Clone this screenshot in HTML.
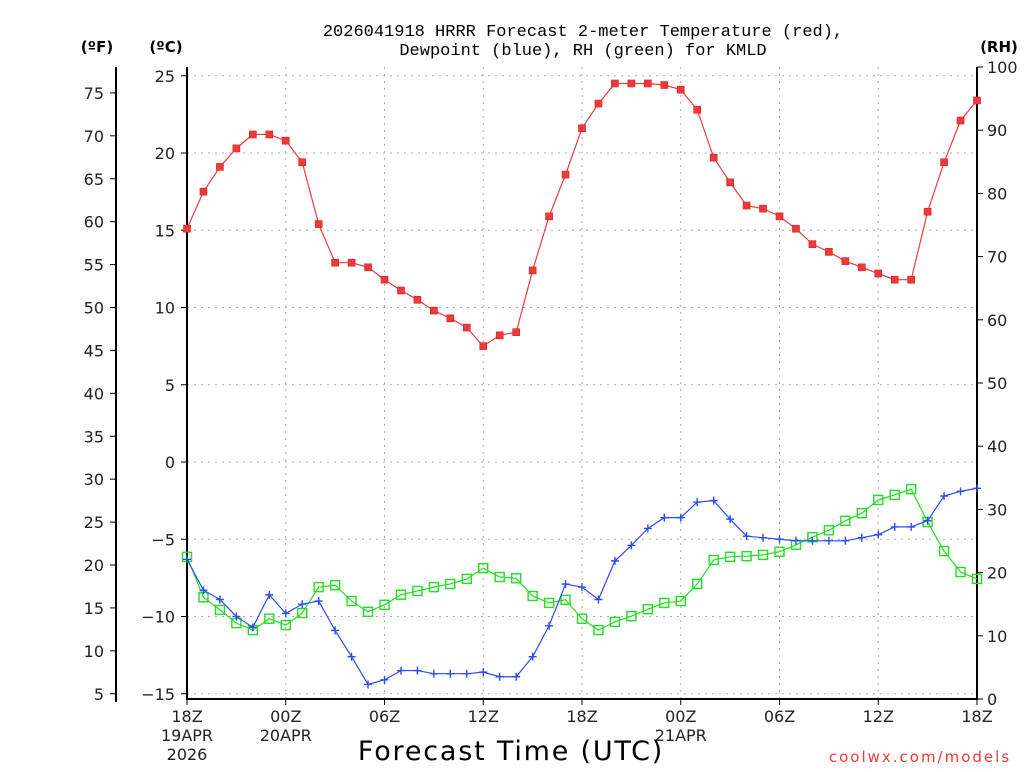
<!DOCTYPE html>
<html><head><meta charset="utf-8"><style>
body{margin:0;background:#fff;font-family:"DejaVu Sans","Liberation Sans",sans-serif}
svg text{font-family:"DejaVu Sans","Liberation Sans",sans-serif}
</style></head><body>
<svg id="c" width="1024" height="768" xmlns="http://www.w3.org/2000/svg"></svg>
<script>
const hours=[...Array(49).keys()];
const tempC=[15.1,17.5,19.1,20.3,21.2,21.2,20.8,19.4,15.4,12.9,12.9,12.6,11.8,11.1,10.5,9.8,9.3,8.7,7.5,8.2,8.4,12.4,15.9,18.6,21.6,23.2,24.5,24.5,24.5,24.4,24.1,22.8,19.7,18.1,16.6,16.4,15.9,15.1,14.1,13.6,13.0,12.6,12.2,11.8,11.8,16.2,19.4,22.1,23.4];
const dewC=[-6.3,-8.3,-8.9,-10.0,-10.7,-8.6,-9.8,-9.2,-9.0,-10.9,-12.6,-14.4,-14.1,-13.5,-13.5,-13.7,-13.7,-13.7,-13.6,-13.9,-13.9,-12.6,-10.6,-7.9,-8.1,-8.9,-6.4,-5.4,-4.3,-3.6,-3.6,-2.6,-2.5,-3.7,-4.8,-4.9,-5.0,-5.1,-5.1,-5.1,-5.1,-4.9,-4.7,-4.2,-4.2,-3.8,-2.2,-1.9,-1.7];
const rh=[22.5,16.1,14.1,12.0,10.9,12.7,11.7,13.6,17.7,18.0,15.5,13.8,14.9,16.5,17.1,17.7,18.2,19.0,20.7,19.3,19.1,16.3,15.2,15.7,12.7,10.9,12.2,13.1,14.2,15.2,15.5,18.2,22.0,22.5,22.6,22.8,23.3,24.4,25.6,26.7,28.2,29.4,31.5,32.3,33.2,28.0,23.4,20.1,19.0];
const cTicks=[25,20,15,10,5,0,-5,-10,-15];
const fTicks=[75,70,65,60,55,50,45,40,35,30,25,20,15,10,5];
const rhTicks=[0,10,20,30,40,50,60,70,80,90,100];
const xTickHours=[0,6,12,18,24,30,36,42,48];
const xTickLabels=["18Z","00Z","06Z","12Z","18Z","00Z","06Z","12Z","18Z"];
const xSub={0:["19APR","2026"],6:["20APR"],30:["21APR"]};

const L=187,R=977,T=67,B=699;
const X=h=>L+(R-L)*h/48;
const YC=c=>462-c*15.45;
const YR=r=>B-(B-T)*r/100;
const svg=document.getElementById('c');
const NS='http://www.w3.org/2000/svg';
function el(tag,attrs,parent){const e=document.createElementNS(NS,tag);for(const k in attrs)e.setAttribute(k,attrs[k]);(parent||svg).appendChild(e);return e;}
function txt(s,x,y,a,size,fill,anchor){const t=el('text',Object.assign({x:x,y:y,'font-size':size||16,fill:fill||'#000','text-anchor':anchor||'middle'},a||{}));t.textContent=s;return t;}

cTicks.forEach(c=>{const g=el('line',{x1:L,x2:R,y1:YC(c),y2:YC(c),stroke:'#aaa','stroke-dasharray':'2,5'});

});
xTickHours.forEach(h=>{if(h>0&&h<48){const g=el('line',{x1:X(h),x2:X(h),y1:T,y2:B,stroke:'#aaa','stroke-dasharray':'2,5'});

}});

el('line',{x1:L,x2:L,y1:T,y2:B+1,stroke:'#000','stroke-width':2});
el('line',{x1:L-1,x2:R+1,y1:B,y2:B,stroke:'#000','stroke-width':2});
el('line',{x1:R,x2:R,y1:T,y2:B+1,stroke:'#000','stroke-width':2});
el('line',{x1:116,x2:116,y1:T,y2:B+3,stroke:'#000','stroke-width':2});

cTicks.forEach(c=>{el('line',{x1:L-6,x2:L,y1:YC(c),y2:YC(c),stroke:'#000'});
const t=txt((c<0?'\u2212':'')+Math.abs(c),L-12,YC(c)+6,{},16,'#222','end');

});
fTicks.forEach(f=>{const y=YC((f-32)*5/9);el('line',{x1:110,x2:116,y1:y,y2:y,stroke:'#000'});
const t=txt(String(f),104,y+6,{},16,'#222','end');

});
rhTicks.forEach(r=>{el('line',{x1:R,x2:R+6,y1:YR(r),y2:YR(r),stroke:'#000'});
const t=txt(String(r),987,YR(r)+6,{},16,'#222','start');

});
xTickHours.forEach((h,i)=>{el('line',{x1:X(h),x2:X(h),y1:B,y2:B+6,stroke:'#000'});
const t=txt(xTickLabels[i],X(h),722,{},16,'#222');


(xSub[h]||[]).forEach((s,j)=>{const u=txt(s,X(h),741+j*19,{},16,'#222');

});});

function series(vals,yf,color,name,marker){
  const p=el('polyline',{points:vals.map((v,i)=>X(hours[i])+','+yf(v)).join(' '),fill:'none',stroke:color,'stroke-width':1.2});
  
  
  vals.forEach((v,i)=>{const x=X(hours[i]),y=yf(v);let m;
    if(marker==='fill'){m=el('rect',{x:x-3.5,y:y-3.5,width:7,height:7,fill:'#f03a3a',stroke:'#c22','stroke-width':0.6});}
    else if(marker==='open'){m=el('rect',{x:x-4.5,y:y-4.5,width:9,height:9,fill:'none',stroke:color,'stroke-width':1.4});}
    else{m=el('path',{d:`M${x-4},${y}H${x+4}M${x},${y-4}V${y+4}`,stroke:color,'stroke-width':1.4});}
    
    });
}
series(rh,YR,'#22dd22','rh','open');
series(dewC,YC,'#2a4cf5','dewpoint','plus');
series(tempC,YC,'#f03a3a','temperature','fill');

let t;
t=txt('2026041918 HRRR Forecast 2-meter Temperature (red),',583,36,{style:'font-family:"Liberation Mono",monospace'},17);


t=txt('Dewpoint (blue), RH (green) for KMLD',583,55,{style:'font-family:"Liberation Mono",monospace'},17);


t=txt('(ºF)',97,52,{'font-weight':'bold'},15);


t=txt('(ºC)',166,52,{'font-weight':'bold'},15);


t=txt('(RH)',999,52,{'font-weight':'bold'},15);


t=txt('Forecast Time (UTC)',511,760,{'letter-spacing':'1.8'},27);


t=txt('coolwx.com/models',920,762,{'letter-spacing':'2'},15,'#f03a3a');


</script>
</body></html>
